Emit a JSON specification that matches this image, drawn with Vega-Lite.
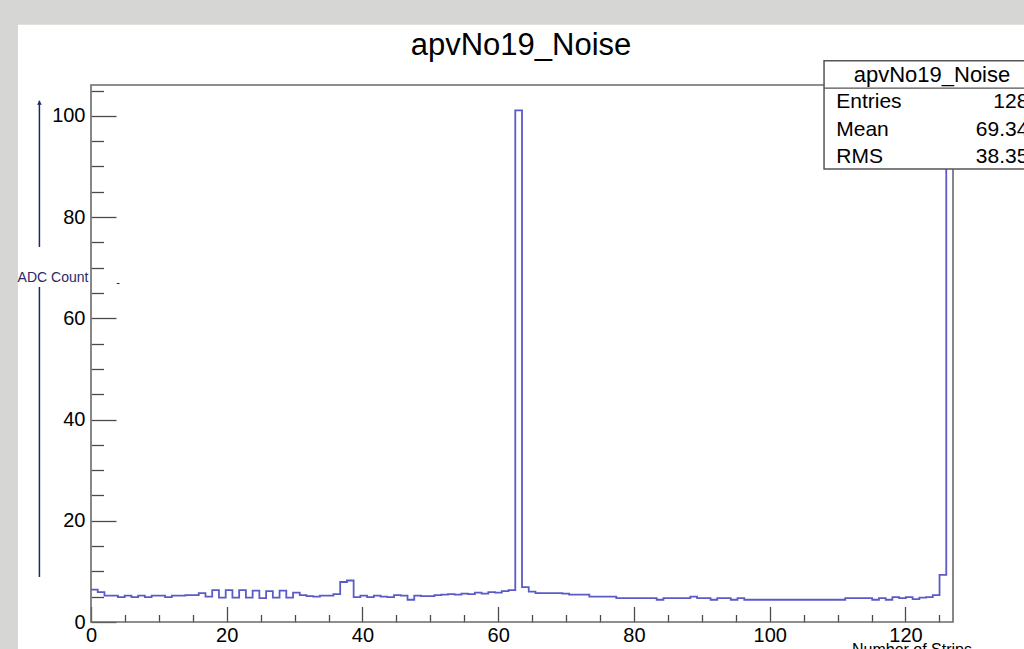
{
  "$schema": "https://vega.github.io/schema/vega-lite/v6.json",
  "autosize": {"type": "none"},
  "width": 862,
  "height": 537,
  "padding": {"left": 91, "top": 85, "right": 71, "bottom": 27},
  "background": "white",
  "config": {"view": {"stroke": null}},
  "resolve": {"axis": {"x": "independent", "y": "independent"}},
  "datasets": {
    "hist": [
      {"strip": 0, "edge": 0, "adc": 6.4},
      {"strip": 1, "edge": 0.992, "adc": 5.9},
      {"strip": 2, "edge": 1.984, "adc": 5.2},
      {"strip": 3, "edge": 2.977, "adc": 5.2},
      {"strip": 4, "edge": 3.969, "adc": 4.9},
      {"strip": 5, "edge": 4.961, "adc": 5.2},
      {"strip": 6, "edge": 5.953, "adc": 4.9},
      {"strip": 7, "edge": 6.945, "adc": 5.2},
      {"strip": 8, "edge": 7.938, "adc": 4.9},
      {"strip": 9, "edge": 8.93, "adc": 5.2},
      {"strip": 10, "edge": 9.922, "adc": 5.2},
      {"strip": 11, "edge": 10.914, "adc": 4.9},
      {"strip": 12, "edge": 11.906, "adc": 5.2},
      {"strip": 13, "edge": 12.898, "adc": 5.2},
      {"strip": 14, "edge": 13.891, "adc": 5.3},
      {"strip": 15, "edge": 14.883, "adc": 5.3},
      {"strip": 16, "edge": 15.875, "adc": 5.7},
      {"strip": 17, "edge": 16.867, "adc": 5.0},
      {"strip": 18, "edge": 17.859, "adc": 6.3},
      {"strip": 19, "edge": 18.852, "adc": 4.8},
      {"strip": 20, "edge": 19.844, "adc": 6.3},
      {"strip": 21, "edge": 20.836, "adc": 4.8},
      {"strip": 22, "edge": 21.828, "adc": 6.3},
      {"strip": 23, "edge": 22.82, "adc": 4.8},
      {"strip": 24, "edge": 23.813, "adc": 6.2},
      {"strip": 25, "edge": 24.805, "adc": 4.7},
      {"strip": 26, "edge": 25.797, "adc": 6.1},
      {"strip": 27, "edge": 26.789, "adc": 4.8},
      {"strip": 28, "edge": 27.781, "adc": 6.2},
      {"strip": 29, "edge": 28.773, "adc": 4.8},
      {"strip": 30, "edge": 29.766, "adc": 5.8},
      {"strip": 31, "edge": 30.758, "adc": 5.3},
      {"strip": 32, "edge": 31.75, "adc": 5.1},
      {"strip": 33, "edge": 32.742, "adc": 5.0},
      {"strip": 34, "edge": 33.734, "adc": 5.2},
      {"strip": 35, "edge": 34.727, "adc": 5.2},
      {"strip": 36, "edge": 35.719, "adc": 5.5},
      {"strip": 37, "edge": 36.711, "adc": 7.9},
      {"strip": 38, "edge": 37.703, "adc": 8.2},
      {"strip": 39, "edge": 38.695, "adc": 4.9},
      {"strip": 40, "edge": 39.688, "adc": 5.2},
      {"strip": 41, "edge": 40.68, "adc": 4.9},
      {"strip": 42, "edge": 41.672, "adc": 5.2},
      {"strip": 43, "edge": 42.664, "adc": 5.0},
      {"strip": 44, "edge": 43.656, "adc": 4.9},
      {"strip": 45, "edge": 44.648, "adc": 5.3},
      {"strip": 46, "edge": 45.641, "adc": 5.2},
      {"strip": 47, "edge": 46.633, "adc": 4.4},
      {"strip": 48, "edge": 47.625, "adc": 5.2},
      {"strip": 49, "edge": 48.617, "adc": 5.1},
      {"strip": 50, "edge": 49.609, "adc": 5.1},
      {"strip": 51, "edge": 50.602, "adc": 5.3},
      {"strip": 52, "edge": 51.594, "adc": 5.4},
      {"strip": 53, "edge": 52.586, "adc": 5.5},
      {"strip": 54, "edge": 53.578, "adc": 5.4},
      {"strip": 55, "edge": 54.57, "adc": 5.6},
      {"strip": 56, "edge": 55.563, "adc": 5.5},
      {"strip": 57, "edge": 56.555, "adc": 5.8},
      {"strip": 58, "edge": 57.547, "adc": 5.6},
      {"strip": 59, "edge": 58.539, "adc": 5.9},
      {"strip": 60, "edge": 59.531, "adc": 5.8},
      {"strip": 61, "edge": 60.523, "adc": 6.1},
      {"strip": 62, "edge": 61.516, "adc": 6.3},
      {"strip": 63, "edge": 62.508, "adc": 101.1},
      {"strip": 64, "edge": 63.5, "adc": 6.9},
      {"strip": 65, "edge": 64.492, "adc": 6.0},
      {"strip": 66, "edge": 65.484, "adc": 5.7},
      {"strip": 67, "edge": 66.477, "adc": 5.7},
      {"strip": 68, "edge": 67.469, "adc": 5.7},
      {"strip": 69, "edge": 68.461, "adc": 5.7},
      {"strip": 70, "edge": 69.453, "adc": 5.6},
      {"strip": 71, "edge": 70.445, "adc": 5.4},
      {"strip": 72, "edge": 71.438, "adc": 5.4},
      {"strip": 73, "edge": 72.43, "adc": 5.4},
      {"strip": 74, "edge": 73.422, "adc": 5.0},
      {"strip": 75, "edge": 74.414, "adc": 5.0},
      {"strip": 76, "edge": 75.406, "adc": 5.0},
      {"strip": 77, "edge": 76.398, "adc": 5.0},
      {"strip": 78, "edge": 77.391, "adc": 4.7},
      {"strip": 79, "edge": 78.383, "adc": 4.7},
      {"strip": 80, "edge": 79.375, "adc": 4.7},
      {"strip": 81, "edge": 80.367, "adc": 4.7},
      {"strip": 82, "edge": 81.359, "adc": 4.7},
      {"strip": 83, "edge": 82.352, "adc": 4.7},
      {"strip": 84, "edge": 83.344, "adc": 4.4},
      {"strip": 85, "edge": 84.336, "adc": 4.7},
      {"strip": 86, "edge": 85.328, "adc": 4.7},
      {"strip": 87, "edge": 86.32, "adc": 4.7},
      {"strip": 88, "edge": 87.313, "adc": 4.7},
      {"strip": 89, "edge": 88.305, "adc": 5.0},
      {"strip": 90, "edge": 89.297, "adc": 4.7},
      {"strip": 91, "edge": 90.289, "adc": 4.7},
      {"strip": 92, "edge": 91.281, "adc": 4.4},
      {"strip": 93, "edge": 92.273, "adc": 4.7},
      {"strip": 94, "edge": 93.266, "adc": 4.7},
      {"strip": 95, "edge": 94.258, "adc": 4.4},
      {"strip": 96, "edge": 95.25, "adc": 4.7},
      {"strip": 97, "edge": 96.242, "adc": 4.4},
      {"strip": 98, "edge": 97.234, "adc": 4.4},
      {"strip": 99, "edge": 98.227, "adc": 4.4},
      {"strip": 100, "edge": 99.219, "adc": 4.4},
      {"strip": 101, "edge": 100.211, "adc": 4.4},
      {"strip": 102, "edge": 101.203, "adc": 4.4},
      {"strip": 103, "edge": 102.195, "adc": 4.4},
      {"strip": 104, "edge": 103.188, "adc": 4.4},
      {"strip": 105, "edge": 104.18, "adc": 4.4},
      {"strip": 106, "edge": 105.172, "adc": 4.4},
      {"strip": 107, "edge": 106.164, "adc": 4.4},
      {"strip": 108, "edge": 107.156, "adc": 4.4},
      {"strip": 109, "edge": 108.148, "adc": 4.4},
      {"strip": 110, "edge": 109.141, "adc": 4.4},
      {"strip": 111, "edge": 110.133, "adc": 4.4},
      {"strip": 112, "edge": 111.125, "adc": 4.7},
      {"strip": 113, "edge": 112.117, "adc": 4.7},
      {"strip": 114, "edge": 113.109, "adc": 4.7},
      {"strip": 115, "edge": 114.102, "adc": 4.7},
      {"strip": 116, "edge": 115.094, "adc": 4.4},
      {"strip": 117, "edge": 116.086, "adc": 4.7},
      {"strip": 118, "edge": 117.078, "adc": 4.4},
      {"strip": 119, "edge": 118.07, "adc": 4.9},
      {"strip": 120, "edge": 119.063, "adc": 4.7},
      {"strip": 121, "edge": 120.055, "adc": 4.9},
      {"strip": 122, "edge": 121.047, "adc": 4.5},
      {"strip": 123, "edge": 122.039, "adc": 4.8},
      {"strip": 124, "edge": 123.031, "adc": 4.9},
      {"strip": 125, "edge": 124.023, "adc": 5.3},
      {"strip": 126, "edge": 125.016, "adc": 9.3},
      {"strip": 127, "edge": 126.008, "adc": 100.5},
      {"strip": 127, "edge": 127, "adc": 100.5}
    ]
  },
  "layer": [
    {
      "data": {"name": "hist"},
      "mark": {"type": "line", "interpolate": "step-after", "color": "#5b5bc8", "strokeWidth": 1.8},
      "encoding": {
        "x": {
          "field": "edge", "type": "quantitative",
          "scale": {"domain": [0, 127], "nice": false, "zero": false},
          "axis": {
            "orient": "bottom",
            "values": [0, 20, 40, 60, 80, 100, 120],
            "tickSize": -15.5,
            "labelPadding": 18.5,
            "domain": false, "grid": false, "title": null,
            "labelFont": "Liberation Sans", "labelFontSize": 20, "labelColor": "black",
            "tickColor": "#4a4a4a", "tickWidth": 1.3,
            "labelFlush": false, "labelOverlap": false, "labelBound": false
          }
        },
        "y": {
          "field": "adc", "type": "quantitative",
          "scale": {"domain": [0, 106.1], "nice": false, "zero": false},
          "axis": {
            "orient": "left",
            "values": [0, 20, 40, 60, 80, 100],
            "tickSize": -25,
            "labelPadding": 31,
            "domain": false, "grid": false, "title": null,
            "labelFont": "Liberation Sans", "labelFontSize": 20, "labelColor": "black",
            "tickColor": "#4a4a4a", "tickWidth": 1.3,
            "labelFlush": false, "labelOverlap": false, "labelBound": false
          }
        }
      }
    },
    {
      "data": {"values": [{"part": "left margin"}]},
      "mark": {"type": "rect", "fill": "#d6d6d4", "stroke": null},
      "encoding": {
        "x": {"datum": -20, "type": "quantitative", "axis": null},
        "x2": {"datum": -10.76},
        "y": {"datum": -30, "type": "quantitative", "axis": null},
        "y2": {"datum": 130}
      }
    },
    {
      "data": {"values": [{"part": "top margin"}]},
      "mark": {"type": "rect", "fill": "#d6d6d4", "stroke": null},
      "encoding": {
        "x": {"datum": -20, "type": "quantitative", "axis": null},
        "x2": {"datum": 160},
        "y": {"datum": 118.0, "type": "quantitative", "axis": null},
        "y2": {"datum": 130}
      }
    },
    {
      "data": {"values": [{"t": "apvNo19_Noise"}]},
      "mark": {"type": "text", "font": "Liberation Sans", "fontSize": 31, "color": "black", "align": "center", "baseline": "alphabetic"},
      "encoding": {
        "x": {"datum": 63.36, "type": "quantitative", "axis": null},
        "y": {"datum": 112.0, "type": "quantitative", "axis": null},
        "text": {"field": "t"}
      }
    },
    {
      "data": {"values": [{"part": "frame"}]},
      "mark": {"type": "rect", "fillOpacity": 0, "stroke": "#6a6a6a", "strokeWidth": 1.6},
      "encoding": {
        "x": {
          "datum": 0, "type": "quantitative",
          "axis": {
            "orient": "bottom",
            "values": [5, 10, 15, 25, 30, 35, 45, 50, 55, 65, 70, 75, 85, 90, 95, 105, 110, 115, 125],
            "tickSize": -7.5, "labels": false,
            "domain": false, "grid": false, "title": null,
            "tickColor": "#4a4a4a", "tickWidth": 1.3
          }
        },
        "x2": {"datum": 127},
        "y": {
          "datum": 0, "type": "quantitative",
          "axis": {
            "orient": "left",
            "values": [5, 10, 15, 25, 30, 35, 45, 50, 55, 65, 70, 75, 85, 90, 95, 105],
            "tickSize": -12.5, "labels": false,
            "domain": false, "grid": false, "title": null,
            "tickColor": "#4a4a4a", "tickWidth": 1.3
          }
        },
        "y2": {"datum": 106.1}
      }
    },
    {
      "data": {"values": [{"y0": 74.1, "y1": 103.0}, {"y0": 8.9, "y1": 66.2}]},
      "mark": {"type": "rule", "color": "#1d2a5c", "strokeWidth": 1.5},
      "encoding": {
        "x": {"datum": -7.6, "type": "quantitative", "axis": null},
        "y": {"field": "y0", "type": "quantitative", "axis": null},
        "y2": {"field": "y1"}
      }
    },
    {
      "data": {"values": [{"tip": "arrow"}]},
      "mark": {"type": "point", "shape": "triangle-up", "filled": true, "color": "#1d2a5c", "size": 22, "opacity": 1},
      "encoding": {
        "x": {"datum": -7.6, "type": "quantitative", "axis": null},
        "y": {"datum": 102.6, "type": "quantitative", "axis": null}
      }
    },
    {
      "data": {"values": [{"t": "ADC Count"}]},
      "mark": {"type": "text", "font": "Liberation Sans", "fontSize": 14, "color": "#2a2a6a", "align": "center", "baseline": "middle"},
      "encoding": {
        "x": {"datum": -5.6, "type": "quantitative", "axis": null},
        "y": {"datum": 68.0, "type": "quantitative", "axis": null},
        "text": {"field": "t"}
      }
    },
    {
      "data": {"values": [{"t": "-"}]},
      "mark": {"type": "text", "font": "Liberation Sans", "fontSize": 11, "color": "black", "align": "center", "baseline": "middle"},
      "encoding": {
        "x": {"datum": 4.0, "type": "quantitative", "axis": null},
        "y": {"datum": 67.0, "type": "quantitative", "axis": null},
        "text": {"field": "t"}
      }
    },
    {
      "data": {"values": [{"part": "statbox"}]},
      "mark": {"type": "rect", "fill": "white", "stroke": "#555555", "strokeWidth": 1.5},
      "encoding": {
        "x": {"datum": 108.0, "type": "quantitative", "axis": null},
        "x2": {"datum": 160},
        "y": {"datum": 110.9, "type": "quantitative", "axis": null},
        "y2": {"datum": 89.5}
      }
    },
    {
      "data": {"values": [{"part": "sep"}]},
      "mark": {"type": "rule", "color": "#555555", "strokeWidth": 1.2},
      "encoding": {
        "x": {"datum": 108.0, "type": "quantitative", "axis": null},
        "x2": {"datum": 160},
        "y": {"datum": 105.5, "type": "quantitative", "axis": null}
      }
    },
    {
      "data": {"values": [{"t": "apvNo19_Noise"}]},
      "mark": {"type": "text", "font": "Liberation Sans", "fontSize": 22, "color": "black", "align": "center", "baseline": "middle"},
      "encoding": {
        "x": {"datum": 123.9, "type": "quantitative", "axis": null},
        "y": {"datum": 108.1, "type": "quantitative", "axis": null},
        "text": {"field": "t"}
      }
    },
    {
      "data": {"values": [{"stat": "Entries", "val": "128"}]},
      "layer": [
        {"mark": {"type": "text", "font": "Liberation Sans", "fontSize": 21, "color": "black", "align": "left", "baseline": "middle"},
         "encoding": {"x": {"datum": 109.8, "type": "quantitative", "axis": null}, "y": {"datum": 102.7, "type": "quantitative", "axis": null}, "text": {"field": "stat"}}},
        {"mark": {"type": "text", "font": "Liberation Sans", "fontSize": 21, "color": "black", "align": "right", "baseline": "middle"},
         "encoding": {"x": {"datum": 138.1, "type": "quantitative", "axis": null}, "y": {"datum": 102.7, "type": "quantitative", "axis": null}, "text": {"field": "val"}}}
      ]
    },
    {
      "data": {"values": [{"stat": "Mean", "val": "69.34"}]},
      "layer": [
        {"mark": {"type": "text", "font": "Liberation Sans", "fontSize": 21, "color": "black", "align": "left", "baseline": "middle"},
         "encoding": {"x": {"datum": 109.8, "type": "quantitative", "axis": null}, "y": {"datum": 97.2, "type": "quantitative", "axis": null}, "text": {"field": "stat"}}},
        {"mark": {"type": "text", "font": "Liberation Sans", "fontSize": 21, "color": "black", "align": "right", "baseline": "middle"},
         "encoding": {"x": {"datum": 138.1, "type": "quantitative", "axis": null}, "y": {"datum": 97.2, "type": "quantitative", "axis": null}, "text": {"field": "val"}}}
      ]
    },
    {
      "data": {"values": [{"stat": "RMS", "val": "38.35"}]},
      "layer": [
        {"mark": {"type": "text", "font": "Liberation Sans", "fontSize": 21, "color": "black", "align": "left", "baseline": "middle"},
         "encoding": {"x": {"datum": 109.8, "type": "quantitative", "axis": null}, "y": {"datum": 91.9, "type": "quantitative", "axis": null}, "text": {"field": "stat"}}},
        {"mark": {"type": "text", "font": "Liberation Sans", "fontSize": 21, "color": "black", "align": "right", "baseline": "middle"},
         "encoding": {"x": {"datum": 138.1, "type": "quantitative", "axis": null}, "y": {"datum": 91.9, "type": "quantitative", "axis": null}, "text": {"field": "val"}}}
      ]
    },
    {
      "data": {"values": [{"t": "Number of Strips"}]},
      "mark": {"type": "text", "font": "Liberation Sans", "fontSize": 16, "color": "black", "align": "right", "baseline": "top"},
      "encoding": {
        "x": {"datum": 129.8, "type": "quantitative", "axis": null},
        "y": {"datum": -4.0, "type": "quantitative", "axis": null},
        "text": {"field": "t"}
      }
    }
  ]
}
